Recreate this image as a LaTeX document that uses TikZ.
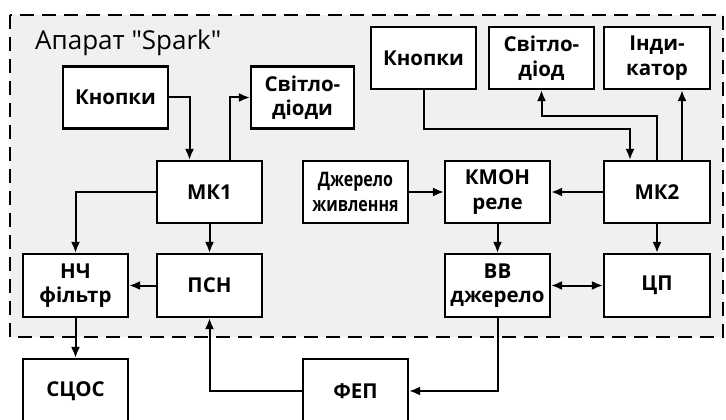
\documentclass[tikz,border=0pt]{standalone}
\usepackage{fontspec}
\setmainfont{Open Sans}[Ligatures=TeXOff]
\usetikzlibrary{arrows.meta,calc}
\definecolor{bggray}{HTML}{F0F0F0}
\tikzset{
  blk/.style={draw=black, line width=2.2pt, fill=white, minimum width=105pt, minimum height=62pt, inner sep=0pt, align=center, font=\bfseries\fontsize{20.5}{24.5}\selectfont},
  arr/.style={line width=2pt, -{Latex[length=11pt,width=9pt]}},
  darr/.style={line width=2pt, {Latex[length=11pt,width=9pt]}-{Latex[length=11pt,width=9pt]}},
}
\begin{document}
\begin{tikzpicture}[x=1pt,y=-1pt]
\useasboundingbox (0,0) rectangle (726,420);
\draw[line width=2.2pt, dash pattern=on 14pt off 8pt, fill=bggray] (10,15) rectangle (723,337);
\node[anchor=base west, inner sep=0pt, font=\fontsize{26}{30}\selectfont] (title) at (35,50) {Апарат "Spark"};
\node[blk] (kn1) at (115.5,97.5) {Кнопки};
\node[blk, minimum width=103pt] (sd1) at (302.5,97.5) {Світло-\\діоди};
\node[blk] (mk1) at (209.5,192) {МК1};
\node[blk, font=\bfseries\fontsize{20}{25}\selectfont] (dz) at (355.5,192) {\scalebox{0.8}[1]{Джерело}\\\scalebox{0.8}[1]{живлення}};
\node[blk] (kmon) at (497.5,192) {КМОН\\реле};
\node[blk, minimum width=106pt] (mk2) at (657,192) {МК2};
\node[blk] (kn2) at (423.5,58) {Кнопки};
\node[blk] (sd2) at (541.5,58) {Світло-\\діод};
\node[blk, minimum width=106pt] (ind) at (657,58) {Інди-\\катор};
\node[blk, minimum height=63pt] (nch) at (75.5,285.5) {НЧ\\фільтр};
\node[blk, minimum height=63pt] (psn) at (209.5,285.5) {ПСН};
\node[blk, minimum height=63pt] (vv) at (497.5,285.5) {ВВ\\джерело};
\node[blk, minimum width=106pt, minimum height=63pt] (cp) at (657,285.5) {ЦП};
\node[blk, minimum height=64pt] (scos) at (75.5,391) {СЦОС};
\node[blk, minimum height=64pt] (fep) at (355.5,391) {ФЕП};
\draw[arr] (kn1.east) -| ([xshift=-20pt]mk1.north);
\draw[arr] ([xshift=20pt]mk1.north) |- (sd1.west);
\draw[arr] (mk1.west) -| (nch.north);
\draw[arr] (mk1.south) -- (psn.north);
\draw[arr] (psn.west) -- (nch.east);
\draw[arr] (nch.south) -- (scos.north);
\draw[arr] (fep.west) -| (psn.south);
\draw[arr] (vv.south) |- (fep.east);
\draw[darr] (vv.east) -- (cp.west);
\draw[arr] (mk2.south) -- (cp.north);
\draw[arr] (kmon.south) -- (vv.north);
\draw[arr] (dz.east) -- (kmon.west);
\draw[arr] (mk2.west) -- (kmon.east);
\draw[arr] (kn2.south) -- ++(0,39) -| ([xshift=-27pt]mk2.north);
\draw[arr] (mk2.north) -- ++(0,-44) -| (sd2.south);
\draw[arr] ([xshift=25pt]mk2.north) -- ([xshift=25pt]ind.south);
\end{tikzpicture}
\end{document}
